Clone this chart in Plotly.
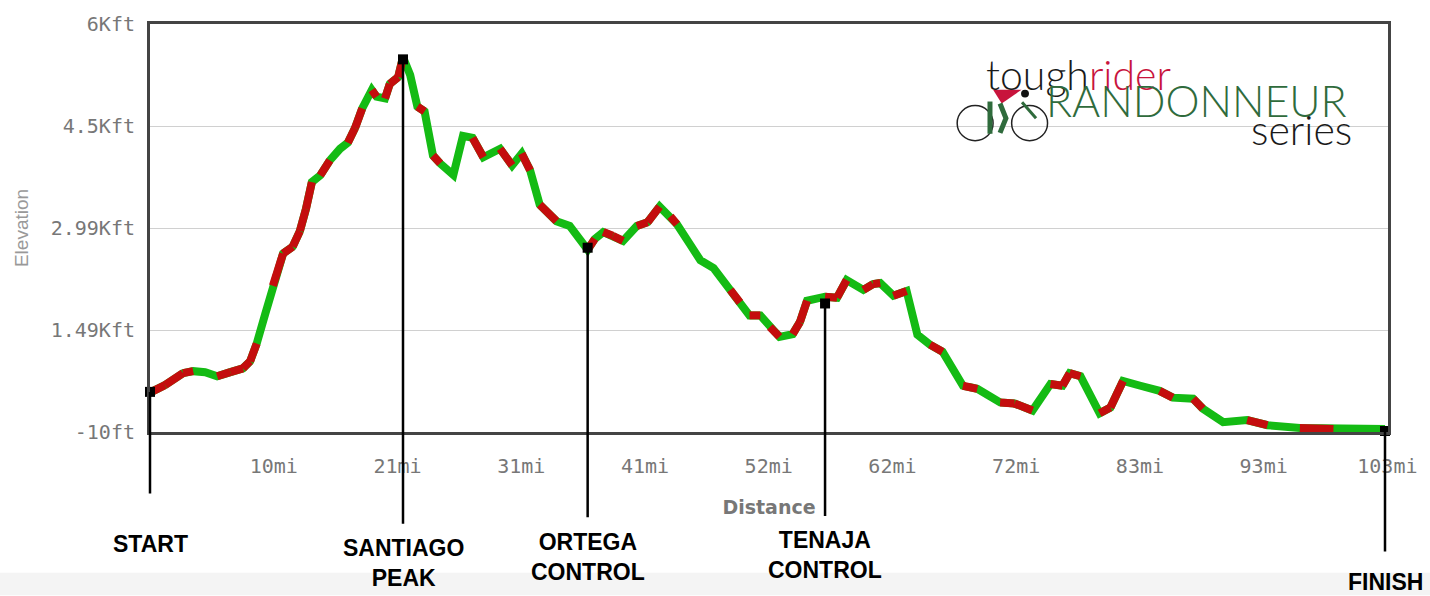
import plotly.graph_objs as go

# elevation profile (miles, feet)
distance_mi = [0.0, 1.25, 2.75, 3.6, 4.6, 5.6, 6.7, 7.75, 8.35, 8.9, 9.6, 10.25, 11.1, 11.9, 12.5, 13.0,
               13.5, 14.2, 15.0, 15.85, 16.5, 17.1, 17.7, 18.5, 18.9, 19.6, 20.0, 20.7, 21.1, 21.7, 22.3,
               22.9, 23.6, 24.2, 25.3, 26.1, 26.9, 27.8, 28.6, 29.2, 30.2, 31.0, 31.7, 32.5, 33.9, 35.0,
               36.5, 37.1, 37.8, 38.6, 39.45, 40.6, 41.5, 42.5, 43.4, 43.95, 45.0, 45.9, 47.0, 48.4, 49.2,
               50.0, 50.9, 51.7, 52.5, 53.6, 54.2, 54.8, 56.3, 57.3, 58.1, 59.5, 60.3, 60.9, 62.0, 63.1,
               64.0, 65.05, 66.1, 67.8, 69.0, 70.9, 72.1, 73.6, 75.1, 76.1, 76.7, 77.6, 78.4, 79.2, 80.1,
               81.15, 82.6, 84.2, 85.3, 87.0, 87.8, 89.5, 91.5, 93.2, 95.9, 98.7, 103.0]
elevation_ft = [570, 680, 855, 885, 870, 810, 870, 925, 1030, 1290, 1720, 2140, 2615, 2715, 2945, 3265,
                3665, 3765, 3985, 4155, 4245, 4460, 4750, 5020, 4920, 4895, 5110, 5210, 5500, 5240, 4775,
                4705, 4055, 3940, 3770, 4345, 4315, 4030, 4085, 4155, 3910, 4085, 3840, 3335, 3090, 3020,
                2670, 2830, 2930, 2875, 2800, 3020, 3075, 3305, 3160, 3045, 2760, 2515, 2400, 2080, 1895,
                1705, 1705, 1535, 1390, 1430, 1605, 1920, 1980, 1965, 2225, 2080, 2165, 2180, 1995, 2065,
                1420, 1275, 1170, 670, 625, 425, 410, 305, 695, 670, 855, 810, 525, 265, 350,
                740, 670, 595, 495, 480, 335, 135, 165, 90, 50, 35, 35]
# 1 = segment leaving this point drawn red, 0 = green
segment_red = [1, 1, 1, 0, 0, 1, 1, 1, 1, 0, 0, 1, 1, 1, 1, 1,
               0, 1, 0, 0, 1, 1, 0, 1, 0, 1, 1, 1, 0, 0, 1,
               0, 1, 0, 0, 0, 1, 0, 0, 1, 0, 1, 0, 1, 0, 0,
               1, 0, 1, 1, 0, 1, 1, 0, 1, 0, 0, 0, 0, 1, 0,
               1, 0, 1, 0, 1, 1, 0, 1, 1, 0, 1, 1, 0, 1, 0,
               0, 1, 0, 1, 0, 1, 1, 0, 1, 1, 1, 0, 0, 1, 1,
               0, 0, 1, 0, 1, 0, 0, 1, 0, 1, 0, 0]

waypoint_names = ["START", "SANTIAGO<br>PEAK", "ORTEGA<br>CONTROL", "TENAJA<br>CONTROL", "FINISH"]
waypoint_mi = [0.0, 21.1, 36.5, 56.3, 103.0]
waypoint_ft = [580, 5470, 2700, 1880, 5]

y_tickvals = [-10, 1490, 2990, 4490, 5990]
y_ticktext = ["-10ft", "1.49Kft", "2.99Kft", "4.5Kft", "6Kft"]
x_tickvals = [10.32, 20.64, 30.96, 41.28, 51.6, 61.92, 72.24, 82.56, 92.88, 103.2]
x_ticktext = ["10mi", "21mi", "31mi", "41mi", "52mi", "62mi", "72mi", "83mi", "93mi", "103mi"]

GREEN = "#14bb14"
RED = "#c40d0d"

# red pieces laid over a full green line
red_x: list = []
red_y: list = []
for i in range(len(distance_mi) - 1):
    if segment_red[i]:
        red_x += [distance_mi[i], distance_mi[i + 1], None]
        red_y += [elevation_ft[i], elevation_ft[i + 1], None]

data = [
    go.Scatter(x=distance_mi, y=elevation_ft, mode='lines', line=dict(color=GREEN, width=8),
               hoverinfo='skip', showlegend=False),
    go.Scatter(x=red_x, y=red_y, mode='lines', line=dict(color=RED, width=8),
               hoverinfo='skip', showlegend=False),
    go.Scatter(x=waypoint_mi, y=waypoint_ft, mode='markers', cliponaxis=False,
               marker=dict(symbol='square', size=10, color='black'), showlegend=False),
]

# label offsets below each marker (pixels) and gap between line end and text
label_ay = [152, 504, 309, 252, 151]
label_gap = [36, 10, 10, 10, 16]

annotations = []
for name, mi, ft, ay, gap in zip(waypoint_names, waypoint_mi, waypoint_ft, label_ay, label_gap):
    annotations.append(dict(x=mi, y=ft, xref='x', yref='y', text="<b>" + name + "</b>", showarrow=True,
                            arrowhead=0, arrowwidth=2.5, arrowcolor='black', ax=0, ay=ay,
                            startstandoff=gap, font=dict(family="Liberation Sans", size=23, color='black')))

# logo
logo_font = "Lato"
annotations += [
    dict(x=0.674, y=0.877, xref='paper', yref='paper', xanchor='left', yanchor='middle', showarrow=False,
         text="tough<span style='color:#c8143c'>rider</span>",
         font=dict(family=logo_font, size=41, color='#1a1a1a', weight=300)),
    dict(x=0.722, y=0.812, xref='paper', yref='paper', xanchor='left', yanchor='middle', showarrow=False,
         text="RANDONNEUR", font=dict(family=logo_font, size=43, color='#2f6b3c', weight=300)),
    dict(x=0.888, y=0.742, xref='paper', yref='paper', xanchor='left', yanchor='middle', showarrow=False,
         text="series", font=dict(family=logo_font, size=41, color='#1a1a1a', weight=300)),
]

shapes = [
    # faint grey band along the bottom edge
    dict(type='rect', xref='paper', yref='paper', x0=-0.125, x1=1.04, y0=-0.40, y1=-0.345,
         fillcolor='#f4f4f4', line=dict(width=0), layer='below'),
    dict(type='rect', xref='paper', yref='paper', x0=0.642, x1=0.987, y0=0.70, y1=0.94,
         fillcolor='white', line=dict(width=0), layer='between'),
    dict(type='circle', xref='paper', yref='paper', x0=0.652, x1=0.681, y0=0.714, y1=0.800,
         line=dict(color='#222', width=1.5)),
    dict(type='circle', xref='paper', yref='paper', x0=0.696, x1=0.725, y0=0.714, y1=0.800,
         line=dict(color='#222', width=1.5)),
    dict(type='path', xref='paper', yref='paper', path="M 0.681 0.839 L 0.704 0.839 L 0.688 0.805 Z",
         fillcolor='#c8143c', line=dict(width=0)),
    dict(type='circle', xref='paper', yref='paper', x0=0.7036, x1=0.710, y0=0.820, y1=0.839,
         fillcolor='#111', line=dict(width=0)),
    dict(type='path', xref='paper', yref='paper', path="M 0.6785 0.810 L 0.6785 0.731",
         line=dict(color='#2f6b3c', width=5)),
    dict(type='path', xref='paper', yref='paper', path="M 0.6866 0.805 L 0.6914 0.769 L 0.6866 0.733",
         line=dict(color='#2f6b3c', width=5)),
    dict(type='path', xref='paper', yref='paper', path="M 0.7044 0.808 L 0.7157 0.769",
         line=dict(color='#2f6b3c', width=3)),
]

tick_font = dict(family="DejaVu Sans Mono", size=20, color='#777')

layout = go.Layout(
    width=1430, height=596, autosize=False,
    margin=dict(l=150, r=42, t=16, b=164),
    paper_bgcolor='white', plot_bgcolor='white',
    font=dict(family="DejaVu Sans", color='#777'),
    xaxis=dict(range=[0, 103.25], tickvals=x_tickvals, ticktext=x_ticktext, showgrid=False, zeroline=False,
               showline=True, mirror=True, linecolor='#444', linewidth=3, ticks='', ticklabelstandoff=14,
               tickfont=tick_font,
               title=dict(text="<b>Distance</b>", font=dict(family="DejaVu Sans", size=19, color='#777'),
                          standoff=24)),
    yaxis=dict(range=[-10, 5990], tickvals=y_tickvals, ticktext=y_ticktext, showgrid=True, gridcolor='#d0d0d0',
               gridwidth=1, zeroline=False, showline=True, mirror=True, linecolor='#444', linewidth=3,
               ticks='', ticklabelstandoff=8, tickfont=tick_font,
               title=dict(text="Elevation", font=dict(family="Liberation Sans", size=19, color='#999'),
                          standoff=18)),
    annotations=annotations,
    shapes=shapes,
)

fig = go.Figure(data, layout)
fig.write_html("out.html", config={'displayModeBar': False},
               post_script="document.body.style.margin='0';")
